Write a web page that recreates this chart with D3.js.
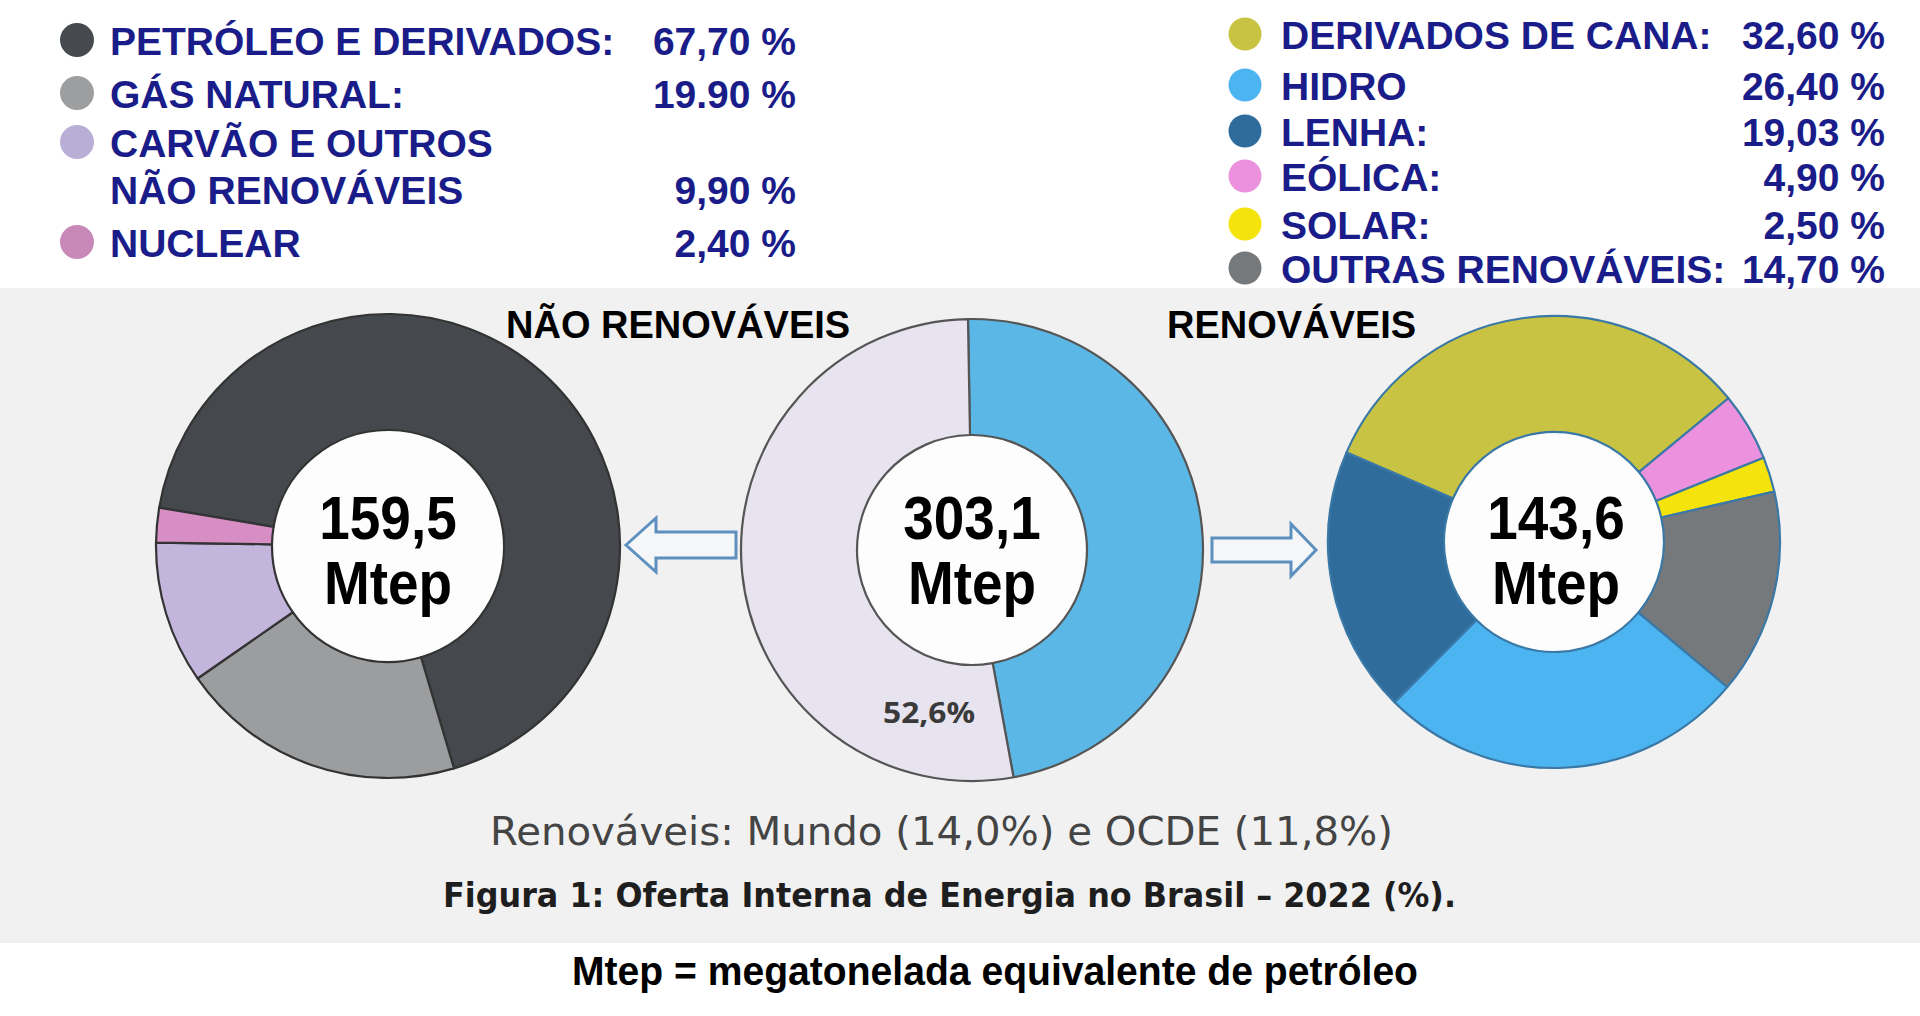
<!DOCTYPE html>
<html>
<head>
<meta charset="utf-8">
<script src="https://cdn.jsdelivr.net/npm/d3@7"></script>
<style>
  html, body { margin: 0; padding: 0; background: #fff; }
  svg { display: block; }
</style>
</head>
<body>
<div id="chart"></div>
<script>
// Oferta interna de energia no Brasil - 2022
const width = 1920;
const height = 1016;

// não renováveis
const naoRenovLabels = ["PETRÓLEO E DERIVADOS:", "GÁS NATURAL:", "CARVÃO E OUTROS|NÃO RENOVÁVEIS", "NUCLEAR"];
const naoRenovValues = [67.7, 19.9, 9.9, 2.4];
const naoRenovText = ["67,70 %", "19.90 %", "9,90 %", "2,40 %"];
const naoRenovColors = ["#45484c", "#9c9d9f", "#c3b5dc", "#d68ec4"];
const naoRenovDots = ["#46494d", "#9d9e9f", "#b9afd6", "#c889b9"];

// renováveis
const renovLabels = ["DERIVADOS DE CANA:", "HIDRO", "LENHA:", "EÓLICA:", "SOLAR:", "OUTRAS RENOVÁVEIS:"];
const renovValues = [32.6, 26.4, 19.03, 4.9, 2.5, 14.7];
const renovText = ["32,60 %", "26,40 %", "19,03 %", "4,90 %", "2,50 %", "14,70 %"];
const renovColors = ["#c8c342", "#4db4f2", "#2f6c9c", "#eb91de", "#f5e40c", "#76797c"];
const renovPieOrder = [0, 3, 4, 5, 1, 2]; // clockwise order in the donut

// total
const totalLabels = ["Renováveis", "Não renováveis"];
const totalValues = [47.4, 52.6];
const totalColors = ["#5bb7e5", "#e7e3ef"];
const totalNaoLabel = "52,6%";

const centerValues = ["159,5", "303,1", "143,6"];
const centerUnit = "Mtep";

const svg = d3.select("#chart").append("svg")
    .attr("width", width)
    .attr("height", height);

// background band (scanned page)
svg.append("rect").attr("x", 0).attr("y", 0).attr("width", width).attr("height", height).attr("fill", "#fff");
svg.append("rect").attr("x", 0).attr("y", 288).attr("width", width).attr("height", 655).attr("fill", "#f1f1f1");

const rad = d => d * Math.PI / 180;

function donut(cx, cy, R, r, values, colors, start, stroke, order){
    const idx = order || values.map((d, i) => i);
    const pie = d3.pie().sort(null).value(i => values[i])
        .startAngle(rad(start)).endAngle(rad(start) + 2 * Math.PI);
    const arc = d3.arc().innerRadius(r).outerRadius(R);
    const g = svg.append("g").attr("transform", `translate(${cx},${cy})`);
    g.append("circle").attr("r", r).attr("fill", "#fdfdfd");
    g.selectAll("path")
        .data(pie(idx))
        .join("path")
        .attr("d", arc)
        .attr("fill", d => colors[d.data])
        .attr("stroke", stroke)
        .attr("stroke-width", 2.2)
        .attr("stroke-linejoin", "round");
    return g;
}

const donuts = [
    {cx: 388, g: donut(388, 546, 232, 116, naoRenovValues, naoRenovColors, -80.5, "#333")},
    {cx: 972, g: donut(972, 550, 231, 115, totalValues, totalColors, -1, "#555")},
    {cx: 1556, g: donut(1554, 542, 226, 110, renovValues, renovColors, -66.7, "#3a78a6", renovPieOrder)}
];

// centre labels (slightly condensed, like the scan)
const centreFont = "bold 61px 'Liberation Sans', Arial, sans-serif";
donuts.forEach((d, i) => {
    [[centerValues[i], 539], [centerUnit, 604]].forEach(([t, y]) => {
        svg.append("text")
            .attr("transform", `translate(${d.cx},${y}) scale(0.9,1)`)
            .attr("text-anchor", "middle")
            .style("font", centreFont)
            .attr("fill", "#000")
            .text(t);
    });
});

// 52,6% label inside the non renewable half
donuts[1].g.append("text")
    .attr("x", -43).attr("y", 173)
    .attr("text-anchor", "middle")
    .attr("textLength", 92).attr("lengthAdjust", "spacingAndGlyphs")
    .style("font", "bold 29px 'Open Sans', 'DejaVu Sans', sans-serif")
    .attr("fill", "#3a3a3a")
    .text(totalNaoLabel);

// section titles
svg.append("text").attr("x", 506).attr("y", 338)
    .style("font", "bold 38px 'Liberation Sans', Arial, sans-serif")
    .text("NÃO RENOVÁVEIS");
svg.append("text").attr("x", 1167).attr("y", 338)
    .style("font", "bold 38px 'Liberation Sans', Arial, sans-serif")
    .text("RENOVÁVEIS");

// hollow arrows
const arrowLeft = d3.path();
arrowLeft.moveTo(626, 545); arrowLeft.lineTo(656, 518); arrowLeft.lineTo(656, 532);
arrowLeft.lineTo(736, 532); arrowLeft.lineTo(736, 558); arrowLeft.lineTo(656, 558);
arrowLeft.lineTo(656, 572); arrowLeft.closePath();
const arrowRight = d3.path();
arrowRight.moveTo(1316, 550); arrowRight.lineTo(1291, 524); arrowRight.lineTo(1291, 538);
arrowRight.lineTo(1212, 538); arrowRight.lineTo(1212, 562); arrowRight.lineTo(1291, 562);
arrowRight.lineTo(1291, 576); arrowRight.closePath();
[arrowLeft, arrowRight].forEach(p => {
    svg.append("path").attr("d", p.toString())
        .attr("fill", "#f4f6f8").attr("stroke", "#5d8fbf").attr("stroke-width", 3)
        .attr("stroke-linejoin", "miter");
});

// legends
const navy = "#1a1d89";
const legendFont = "bold 39px 'Liberation Sans', Arial, sans-serif";
const leftRows = [55, 108, 157, 257];
naoRenovLabels.forEach((lab, i) => {
    const y = leftRows[i];
    svg.append("circle").attr("cx", 77).attr("cy", y - 15).attr("r", 17).attr("fill", naoRenovDots[i]);
    lab.split("|").forEach((line, k) => {
        svg.append("text").attr("x", 110).attr("y", y + k * 47)
            .style("font", legendFont).attr("fill", navy).text(line);
    });
    const lines = lab.split("|").length;
    svg.append("text").attr("x", 796).attr("y", y + (lines - 1) * 47)
        .attr("text-anchor", "end")
        .style("font", legendFont).attr("fill", navy).text(naoRenovText[i]);
});

const rightRows = [49, 100, 146, 191, 239, 283];
renovLabels.forEach((lab, i) => {
    const y = rightRows[i];
    svg.append("circle").attr("cx", 1245).attr("cy", y - 15).attr("r", 16.5).attr("fill", renovColors[i]);
    svg.append("text").attr("x", 1281).attr("y", y)
        .style("font", legendFont).attr("fill", navy).text(lab);
    svg.append("text").attr("x", 1885).attr("y", y)
        .attr("text-anchor", "end")
        .style("font", legendFont).attr("fill", navy).text(renovText[i]);
});

// captions
svg.append("text").attr("x", 490).attr("y", 845)
    .attr("textLength", 903).attr("lengthAdjust", "spacingAndGlyphs")
    .style("font", "39px 'DejaVu Sans', Verdana, sans-serif")
    .attr("fill", "#444")
    .text("Renováveis: Mundo (14,0%) e OCDE (11,8%)");
svg.append("text").attr("x", 443).attr("y", 907)
    .attr("textLength", 1013).attr("lengthAdjust", "spacingAndGlyphs")
    .style("font", "bold 33px 'DejaVu Sans', Verdana, sans-serif")
    .attr("fill", "#1e1e1e")
    .text("Figura 1: Oferta Interna de Energia no Brasil – 2022 (%).");
svg.append("text").attr("x", 572).attr("y", 985)
    .attr("textLength", 846).attr("lengthAdjust", "spacingAndGlyphs")
    .style("font", "bold 41px 'Liberation Sans', Arial, sans-serif")
    .attr("fill", "#000")
    .text("Mtep = megatonelada equivalente de petróleo");
</script>
</body>
</html>
